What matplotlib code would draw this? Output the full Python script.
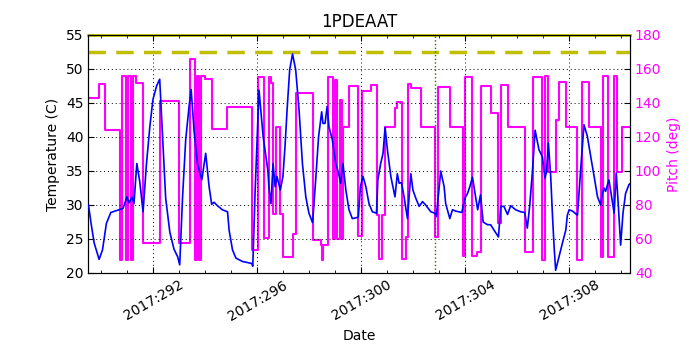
import matplotlib
matplotlib.use('Agg')
import matplotlib.pyplot as plt
from matplotlib.ticker import MultipleLocator, FuncFormatter

# day of year 2017 and temperature (C)
temp_days = [289.50, 289.60, 289.72, 289.91, 290.04, 290.19, 290.36, 290.68, 290.83, 290.98,
             291.06, 291.17, 291.25, 291.36, 291.47, 291.60, 291.73, 291.86, 291.98, 292.12,
             292.24, 292.35, 292.47, 292.63, 292.79, 292.93, 293.01, 293.12, 293.24, 293.37,
             293.45, 293.56, 293.69, 293.86, 294.01, 294.14, 294.24, 294.33, 294.46, 294.65,
             294.85, 294.91, 295.04, 295.17, 295.42, 295.78, 295.82, 295.91, 296.06, 296.22,
             296.40, 296.45, 296.52, 296.60, 296.68, 296.75, 296.88, 296.98, 297.06, 297.14,
             297.24, 297.35, 297.47, 297.60, 297.73, 297.86, 297.98, 298.12, 298.24, 298.35,
             298.47, 298.52, 298.60, 298.68, 298.75, 298.88, 299.01, 299.12, 299.20, 299.29,
             299.40, 299.52, 299.65, 299.88, 299.96, 300.06, 300.17, 300.29, 300.42, 300.58,
             300.63, 300.74, 300.83, 300.91, 301.00, 301.13, 301.29, 301.38, 301.45, 301.54,
             301.64, 301.77, 301.90, 301.98, 302.09, 302.22, 302.35, 302.47, 302.67, 302.82,
             302.88, 303.05, 303.18, 303.24, 303.40, 303.50, 303.63, 303.86, 303.98, 304.08,
             304.17, 304.27, 304.37, 304.47, 304.58, 304.68, 304.85, 304.97, 305.10, 305.27,
             305.36, 305.48, 305.62, 305.74, 305.93, 306.13, 306.28, 306.38, 306.47, 306.58,
             306.68, 306.78, 306.83, 306.96, 307.06, 307.12, 307.19, 307.28, 307.35, 307.41,
             307.47, 307.60, 307.73, 307.86, 307.92, 307.99, 308.12, 308.31, 308.43, 308.56,
             308.69, 308.82, 308.95, 309.08, 309.20, 309.27, 309.33, 309.39, 309.52, 309.62,
             309.72, 309.80, 309.88, 309.97, 310.06, 310.16, 310.29, 310.42]
temp_vals = [30.0, 27.3, 24.4, 22.0, 23.4, 27.3, 28.9, 29.3, 29.5, 31.2,
             30.3, 31.2, 30.2, 36.1, 33.5, 29.0, 36.0, 41.5, 45.5, 47.5,
             48.5, 40.0, 31.0, 26.0, 23.5, 22.4, 21.2, 31.2, 39.6, 44.5,
             47.0, 41.0, 36.1, 33.7, 37.6, 32.7, 30.1, 30.4, 29.9, 29.3,
             29.0, 26.3, 23.4, 22.2, 21.7, 21.4, 21.0, 32.0, 46.9, 40.0,
             35.1, 32.2, 30.2, 36.1, 32.7, 34.2, 32.2, 34.2, 38.6, 44.0,
             49.9, 52.2, 49.9, 44.0, 36.1, 31.2, 28.8, 27.4, 33.7, 40.0,
             43.7, 42.0, 42.0, 44.5, 41.5, 39.6, 36.1, 34.7, 33.2, 36.1,
             32.2, 29.3, 28.0, 28.2, 32.7, 34.2, 32.7, 30.2, 29.0, 28.8,
             33.7, 36.1, 37.6, 41.4, 38.1, 34.2, 31.2, 34.6, 33.2, 33.3,
             31.2, 28.0, 34.6, 32.2, 31.0, 29.8, 30.5, 30.0, 29.0, 28.8,
             28.3, 35.0, 32.7, 30.2, 28.0, 29.3, 29.1, 28.9, 31.0, 31.7,
             32.7, 34.1, 31.7, 29.3, 31.5, 27.5, 27.1, 27.1, 26.3, 25.3,
             29.8, 29.8, 28.6, 29.9, 29.3, 29.0, 28.9, 26.6, 29.8, 35.1,
             41.0, 39.1, 38.1, 37.1, 33.9, 35.0, 39.1, 34.2, 28.3, 23.9,
             20.4, 22.4, 24.4, 26.3, 28.5, 29.3, 29.1, 28.5, 35.1, 41.8,
             40.1, 37.1, 34.2, 31.2, 30.0, 31.7, 32.5, 32.0, 33.7, 31.2,
             28.8, 34.7, 30.0, 24.1, 28.8, 31.7, 33.0, 33.4]

# pitch (deg), each value held until the next day
pitch_days = [289.49, 289.91, 290.12, 290.73, 290.78, 290.93, 291.01, 291.14, 291.22, 291.32,
              291.60, 292.24, 292.98, 293.40, 293.60, 293.68, 293.75, 293.83, 293.98, 294.24,
              294.81, 295.78, 296.01, 296.24, 296.45, 296.52, 296.60, 296.70, 296.86, 296.98,
              297.35, 297.50, 298.14, 298.43, 298.49, 298.52, 298.70, 298.89, 298.97, 299.07,
              299.17, 299.25, 299.29, 299.52, 299.88, 300.01, 300.37, 300.60, 300.68, 300.81,
              300.91, 301.29, 301.35, 301.55, 301.70, 301.81, 301.91, 302.28, 302.83, 302.96,
              303.40, 303.91, 303.99, 304.27, 304.46, 304.58, 304.98, 305.24, 305.36, 305.65,
              306.29, 306.60, 306.96, 307.06, 307.19, 307.47, 307.58, 307.88, 308.31, 308.47,
              308.75, 309.20, 309.31, 309.50, 309.70, 309.83, 310.01, 310.40]
pitch_vals = [143.1, 151.0, 124.3, 47.6, 155.9, 47.6, 155.9, 47.6, 155.9, 152.0,
              57.5, 141.0, 57.5, 165.7, 47.6, 155.9, 47.6, 155.9, 154.0, 125.0,
              137.8, 53.5, 155.5, 60.4, 155.5, 151.6, 75.0, 125.7, 75.0, 49.6,
              63.0, 145.7, 59.4, 56.5, 47.6, 56.5, 155.5, 59.8, 153.5, 59.8,
              141.8, 59.8, 125.7, 150.0, 61.8, 147.1, 150.6, 74.1, 48.0, 74.1,
              126.0, 136.9, 140.8, 48.0, 61.4, 151.2, 148.6, 126.0, 61.4, 149.6,
              126.0, 50.0, 155.5, 50.0, 52.5, 150.0, 134.3, 69.6, 150.6, 126.0,
              52.5, 155.5, 47.6, 155.9, 99.6, 130.0, 152.5, 126.0, 47.6, 152.5,
              126.0, 49.6, 155.9, 49.6, 155.9, 99.6, 126.0, 126.0]

planning_limit = 52.5
caution_limit = 55.0
marker_day = 302.83

fig = plt.figure(figsize=(7, 3.5), dpi=100)
ax = fig.add_axes([0.126, 0.22, 0.774, 0.68])
ax2 = ax.twinx()

ax.plot(temp_days, temp_vals, color='b', lw=1.2, zorder=3)
ax.axhline(planning_limit, color='y', ls='--', lw=2.5, dashes=(5, 3))
ax.axhline(caution_limit, color='y', lw=2, clip_on=False, zorder=1)
ax.axvline(marker_day, color='g', ls=':', lw=1)
ax.set_xlim(289.49, 310.33)
ax.set_ylim(20, 55)
ax.set_title('1PDEAAT', fontsize=12)
ax.set_xlabel('Date', fontsize=10)
ax.set_ylabel('Temperature (C)', fontsize=10)
ax.xaxis.set_major_locator(MultipleLocator(4))
ax.xaxis.set_minor_locator(MultipleLocator(1))
ax.xaxis.set_major_formatter(FuncFormatter(lambda v, p: '2017:%03d' % int(round(v))))
ax.grid(True, color='k', ls=(0, (1, 3)), lw=0.7)
ax.tick_params(which='both', direction='in', top=True, labelsize=10)
ax.tick_params(which='major', length=4)
ax.tick_params(which='minor', length=2)
for lab in ax.get_xticklabels():
    lab.set_rotation(30)
    lab.set_ha('center')

ax2.step(pitch_days, pitch_vals, where='post', color='#ff00ff', lw=1.5)
ax2.set_ylim(40, 180)
ax2.set_ylabel('Pitch (deg)', color='#ff00ff', fontsize=10)
ax2.tick_params(direction='in', colors='k', labelcolor='#ff00ff', labelsize=10, length=4)
ax2.set_xlim(289.49, 310.33)

ax.set_zorder(ax2.get_zorder() + 1)
ax.patch.set_visible(False)

fig.savefig('out.png', dpi=100)
